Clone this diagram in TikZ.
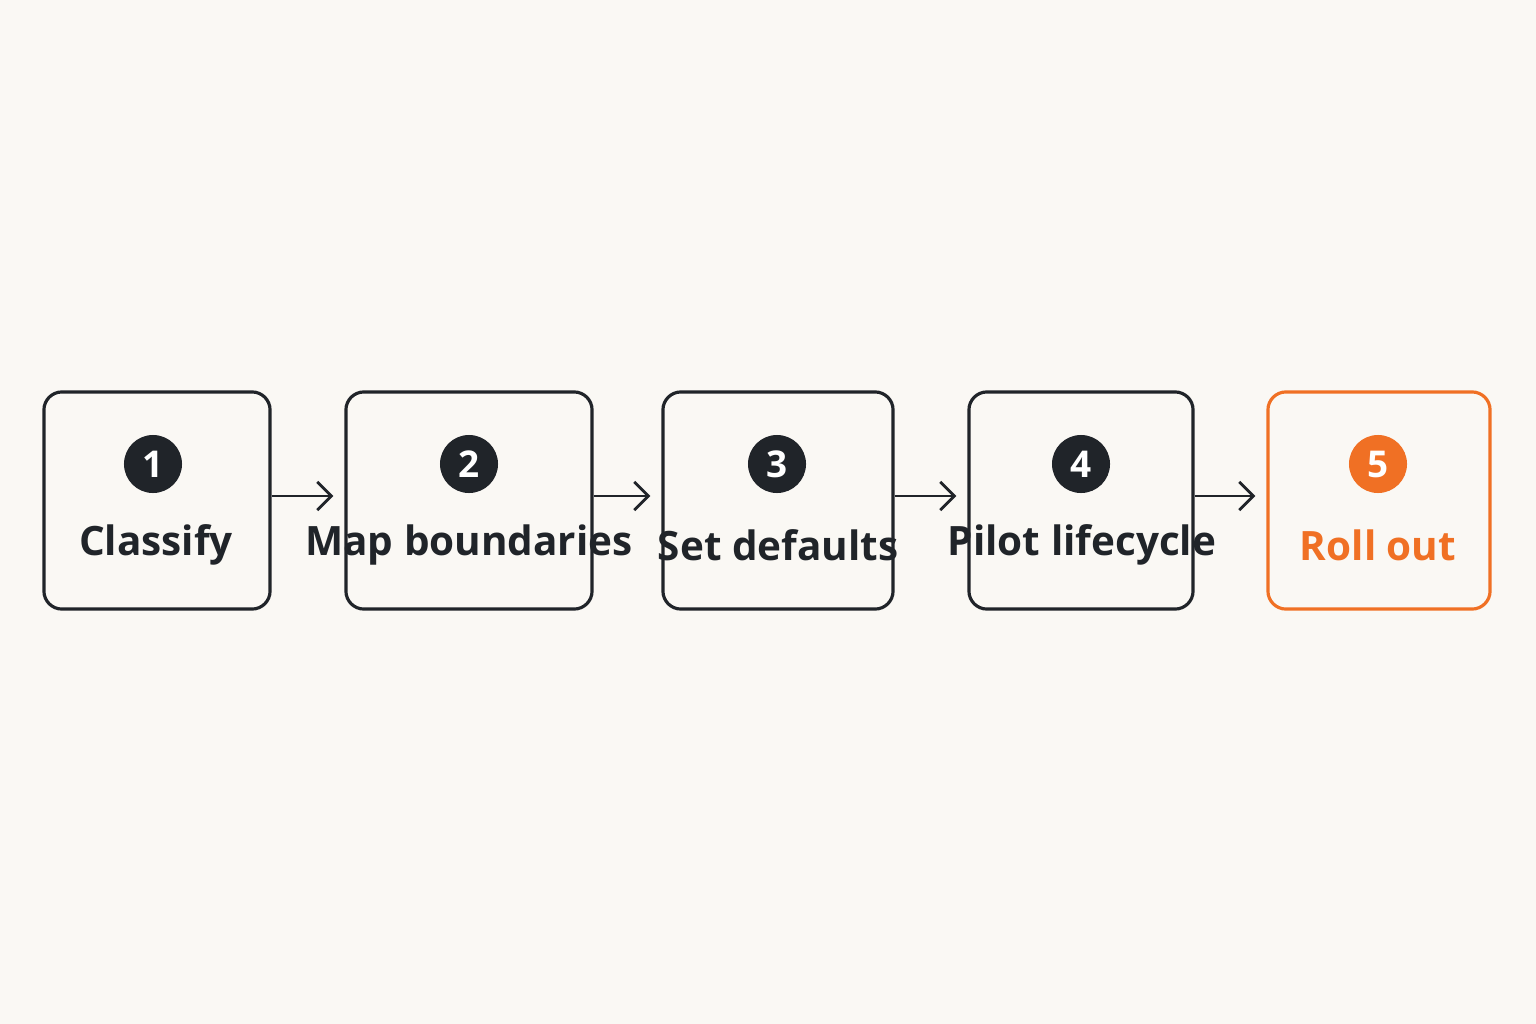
\documentclass[tikz,border=0pt]{standalone}
\usepackage{fontspec}
\setmainfont{Open Sans}
\usetikzlibrary{arrows.meta}
\definecolor{Ink}{RGB}{32,36,41}
\definecolor{Orange}{RGB}{240,112,36}
\definecolor{Paper}{RGB}{250,248,244}
\begin{document}
\begin{tikzpicture}[x=0.01cm, y=-0.01cm,
	stage/.style={draw=Ink, line width=0.9pt, rounded corners=0.18cm, minimum height=2.17cm, inner sep=0pt},
	badge/.style={circle, fill=Ink, minimum size=0.58cm, inner sep=0pt, text=white, font=\fontsize{10.5}{12}\selectfont\bfseries},
	stagename/.style={text=Ink, font=\fontsize{11.5}{13}\selectfont\bfseries},
	link/.style={-{Straight Barb[length=4pt,width=8pt]}, draw=Ink, line width=0.8pt, shorten >=0.11cm}]
	
	% Background
	\fill[Paper] (0,0) rectangle (1536,1024);
	
	% Stages
	\node[stage, minimum width=2.26cm] (s1) at (157,500.5) {};
	\node[stage, minimum width=2.46cm] (s2) at (469,500.5) {};
	\node[stage, minimum width=2.30cm] (s3) at (778,500.5) {};
	\node[stage, minimum width=2.24cm] (s4) at (1081,500.5) {};
	\node[stage, draw=Orange, minimum width=2.22cm] (s5) at (1379,500.5) {};
	
	% Badges
	\node[badge] (b1) at (153,464) {1};
	\node[badge] (b2) at (469,464) {2};
	\node[badge] (b3) at (777,464) {3};
	\node[badge] (b4) at (1081,464) {4};
	\node[badge, fill=Orange] (b5) at (1378,464) {5};
	
	% Names
	\node[stagename] (n1) at (156,545) {Classify};
	\node[stagename] (n2) at (469,545) {Map boundaries};
	\node[stagename] (n3) at (778,545) {Set defaults};
	\node[stagename] (n4) at (1082,545) {Pilot lifecycle};
	\node[stagename, text=Orange] (n5) at (1378,545) {Roll out};
	
	% Arrows
	\draw[link] (s1.east |- 0,496) -- (s2.west |- 0,496);
	\draw[link] (s2.east |- 0,496) -- (s3.west |- 0,496);
	\draw[link] (s3.east |- 0,496) -- (s4.west |- 0,496);
	\draw[link] (s4.east |- 0,496) -- (s5.west |- 0,496);
	
\end{tikzpicture}
\end{document}
